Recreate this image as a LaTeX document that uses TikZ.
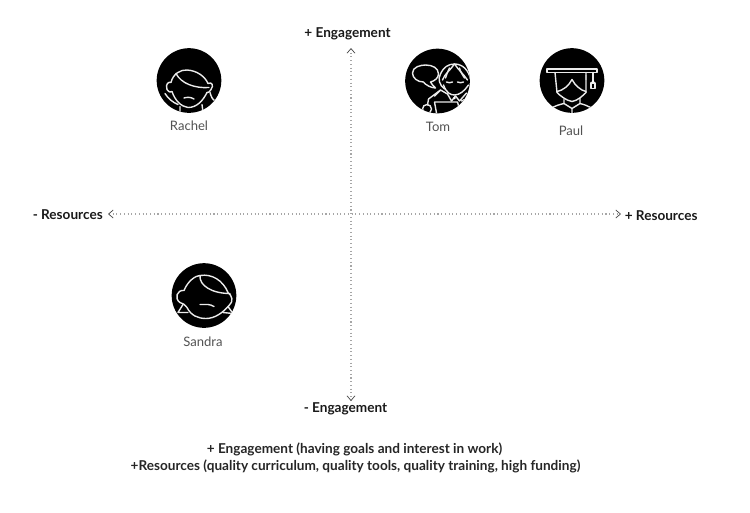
\documentclass[tikz,border=0pt]{standalone}
\usepackage{fontspec}
\setmainfont{Lato}
\usetikzlibrary{arrows.meta}
\tikzset{
  x=0.75pt,y=-0.75pt,
  badge/.style={circle,fill=black,minimum size=48.5pt,inner sep=0pt,outer sep=0pt},
  who/.style={font=\fontsize{9.8}{11}\selectfont,text=black!68,inner sep=0pt},
  axislabel/.style={font=\bfseries\fontsize{10.2}{12}\selectfont,text=black!90,inner sep=0pt},
  notelabel/.style={font=\bfseries\fontsize{10.2}{12}\selectfont,text=black!85,inner sep=0pt},
  icon/.style={draw=white!92!black,line width=1.05pt,line cap=round,line join=round},
  axis/.style={draw=black!35,line width=0.8pt,dotted,{Straight Barb[length=3.5pt,width=6pt,black!70,line width=0.55pt]}-{Straight Barb[length=3.5pt,width=6pt,black!70,line width=0.55pt]}}
}
\begin{document}
\begin{tikzpicture}
\useasboundingbox (0,0) rectangle (750,512);
% axes
\coordinate (left) at (108,214);
\coordinate (right) at (621,214);
\coordinate (top) at (351,48);
\coordinate (bottom) at (351,401);
\draw[axis] (left) -- (right);
\draw[axis] (top) -- (bottom);
% axis labels
\node[axislabel,anchor=center] (engp) at (347.5,33.5) {+ Engagement};
\node[axislabel,anchor=center] (engm) at (345.5,408.5) {- Engagement};
\node[axislabel,anchor=east] (resm) at (103,215) {- Resources};
\node[axislabel,anchor=west] (resp) at (624.5,215.5) {+ Resources};
% notes
\node[notelabel] (note1) at (354.5,449.5) {+ Engagement (having goals and interest in work)};
\node[notelabel] (note2) at (355.5,466.5) {+Resources (quality curriculum, quality tools, quality training, high funding)};
% Rachel
\node[badge] (rachel) at (189,80.5) {};
\node[who] (rachelname) at (189,125.5) {Rachel};
\begin{scope}[shift={(rachel.center)}]
\clip (0,0) circle (32.3);
\draw[icon] (-22,9) .. controls (-24,3) and (-20,1) .. (-18,2) .. controls (-16,-7) and (-8,-11) .. (-2,-10.5) .. controls (8,-10) and (16,-4) .. (19,3) .. controls (23,1) and (25,5) .. (22,9) .. controls (20,12) and (19,12) .. (18,12);
\draw[icon] (-13,-7) .. controls (-8,3) and (6,8) .. (20,7);
\draw[icon] (-22,9) .. controls (-20,12) and (-18,12) .. (-17,11) .. controls (-14,20) and (-8,26) .. (-1,27) .. controls (8,27) and (14,20) .. (18,12);
\draw[icon] (-5,17.5) .. controls (-2,16.5) and (2,16.5) .. (5,18.5);
\draw[icon] (-24,13) .. controls (-21,18) and (-16,22) .. (-11,24) (21,12) .. controls (22,16) and (24,20) .. (26,20) (-9,26) -- (-9,32) (13,24) -- (14,32);
\end{scope}
% Tom
\node[badge] (tom) at (437.5,81) {};
\node[who] (tomname) at (438,126.5) {Tom};
\begin{scope}[shift={(tom.center)}]
\clip (0,0) circle (32.3);
\draw[icon] (-25,-8) .. controls (-25,-14) and (-17,-16) .. (-12,-16) .. controls (-5,-16) and (1,-13) .. (1,-7) .. controls (1,-3) and (-3,0) .. (-7,1) .. controls (-6,3) and (-4,5) .. (-2,7) .. controls (-6,7) and (-12,4) .. (-14,1) .. controls (-20,1) and (-25,-3) .. (-25,-8) -- cycle;
\draw[icon] (7,8) .. controls (2,4) and (0,-2) .. (3,-7) .. controls (6,-14) and (11,-17) .. (17,-17) .. controls (25,-17) and (31,-11) .. (33,-2);
\draw[icon] (17,-17) .. controls (13,-11) and (7,-7) .. (5,-1);
\draw[icon] (17,-17) .. controls (21,-11) and (26,-7) .. (30,-1);
\draw[icon] (12,-13) .. controls (10,-9) and (9,-6) .. (8,-3) (22,-13) .. controls (23,-9) and (25,-6) .. (27,-3);
\draw[icon] (9,1) .. controls (11,2) and (13,2) .. (15,1) (20,1) .. controls (22,2) and (24,2) .. (26,1);
\draw[icon] (6,4) .. controls (9,12) and (13,14) .. (17,14) .. controls (22,14) and (27,10) .. (31,4);
\draw[icon] (-9,18) -- (3,9) -- (10,13) (10,13) -- (14,20) -- (18,15) -- (22,20) -- (29,12);
\draw[icon] (-9,18) -- (-10,24) (3,9) -- (-3,15);
\draw[icon] (-10.5,28) circle (4.5);
\draw[icon] (-3,21) -- (20,21) (-3,21) -- (-1,32) (20,21) -- (23,32) (24,20) -- (33,16);
\fill[white] (17,17) circle (1.4);
\end{scope}
% Paul
\node[badge] (paul) at (572,80.5) {};
\node[who] (paulname) at (571,130.5) {Paul};
\begin{scope}[shift={(paul.center)}]
\clip (0,0) circle (32.3);
\draw[icon] (-25,-11.5) -- (25,-11.5) -- (25,-8) -- (-25,-8) -- cycle;
\draw[icon] (-17,-8) -- (-15,12) (14,-8) -- (14,12);
\draw[icon] (-15,11) .. controls (-9,10) and (-3,5) .. (0,-1) .. controls (3,5) and (9,10) .. (14,11);
\draw[icon] (-15,12) .. controls (-12,15) and (-6,20) .. (0,21) .. controls (6,20) and (11,15) .. (14,12);
\draw[icon] (-8,19) -- (-8,23) -- (0,28) -- (8,23) -- (8,18);
\draw[icon] (-8,23) .. controls (-17,25) and (-23,28) .. (-26,33) (8,23) .. controls (16,25) and (22,28) .. (25,33) (0,28) -- (0,33);
\draw[icon] (21,-8) -- (21,1);
\draw[icon] (19,2.5) rectangle (23,8);
\fill[white] (21,1) circle (1.3);
\fill[white!70!black] (12.5,-5.5) rectangle (15,-1);
\end{scope}
% Sandra
\node[badge] (sandra) at (204,295.5) {};
\node[who] (sandraname) at (203,341.5) {Sandra};
\begin{scope}[shift={(sandra.center)}]
\clip (0,0) circle (32.3);
\draw[icon] (-24,7) .. controls (-30,3) and (-27,-6) .. (-20,-5) .. controls (-16,-15) and (-8,-20) .. (-4,-20) .. controls (8,-22) and (19,-15) .. (24,-3) .. controls (28,0) and (30,6) .. (25,10);
\draw[icon] (-4,-20) .. controls (-5,-10) and (8,-2) .. (26,-2);
\draw[icon] (-24,7) .. controls (-21,8) and (-19,9) .. (-17,12) .. controls (-13,20) and (-6,23) .. (2,23) .. controls (11,23) and (19,17) .. (25,10);
\draw[icon] (-4,9) -- (4,9) .. controls (6,9) and (8,10) .. (10,11);
\draw[icon] (-21,9) -- (-26,17) -- (-16,17) (24,11) -- (29,18) -- (19,17);
\end{scope}
\end{tikzpicture}
\end{document}
